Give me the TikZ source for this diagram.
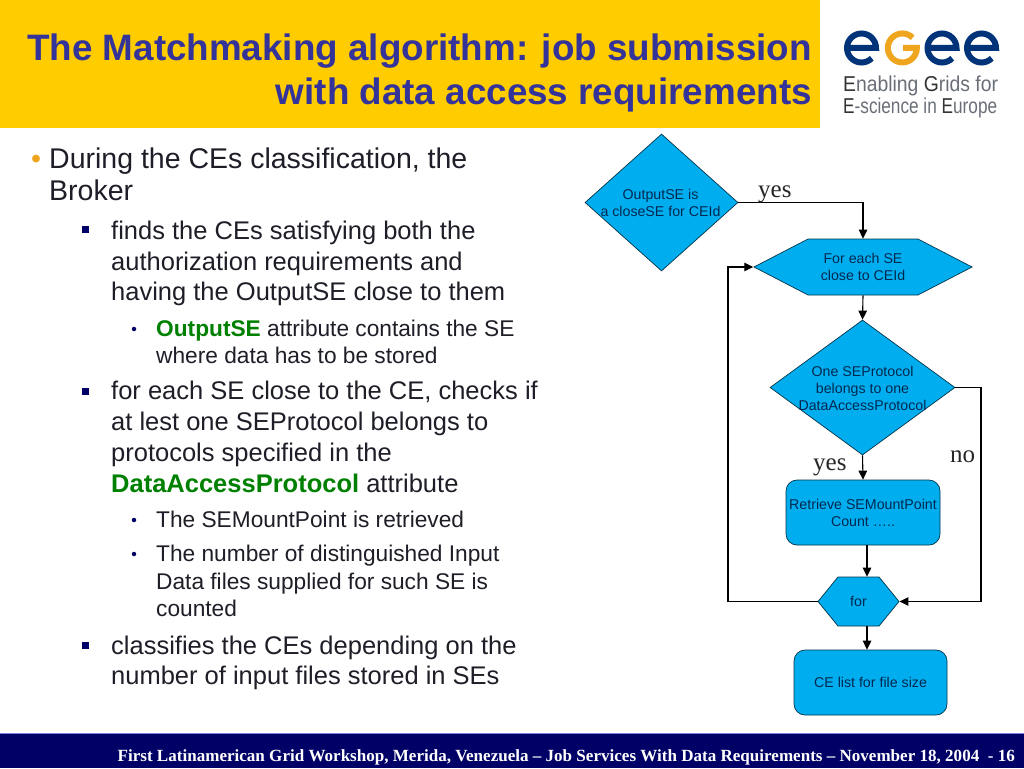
\documentclass[tikz,border=0pt]{standalone}
\usepackage{fontspec}
\usepackage{graphicx}
\setmainfont{Liberation Sans}
\newfontfamily\timesf{Liberation Serif}
\usetikzlibrary{shapes.geometric,shapes.symbols,arrows.meta}
\definecolor{hdr}{RGB}{255,204,0}
\definecolor{ttl}{RGB}{51,51,153}
\definecolor{flow}{RGB}{0,174,239}
\definecolor{flowtxt}{RGB}{0,40,80}
\definecolor{navy}{RGB}{0,0,102}
\definecolor{grn}{RGB}{0,128,0}
\definecolor{orng}{RGB}{240,165,30}
\definecolor{logob}{RGB}{0,51,120}
\definecolor{logoy}{RGB}{240,165,30}
\definecolor{body}{RGB}{30,30,40}
\definecolor{logog}{RGB}{105,110,120}
\tikzset{
 x=1pt,y=-1pt,
 line/.style={draw=black,line width=1.1pt},
 arr/.style={line,-{Triangle[length=9pt,width=8.5pt]}},
 flowfont/.style={font=\fontsize{14.2}{17}\selectfont},
 dia/.style={diamond,draw=black!70!flow,line width=.7pt,fill=flow,inner sep=0pt,text=flowtxt,align=center,flowfont},
 hex/.style={signal,signal to=east and west,draw=black!70!flow,line width=.7pt,fill=flow,inner sep=0pt,text=flowtxt,align=center,flowfont},
 rbox/.style={rectangle,rounded corners=11pt,draw=black!70!flow,line width=.7pt,fill=flow,inner sep=0pt,text=flowtxt,align=center,flowfont},
 lab/.style={font=\timesf\fontsize{25}{25}\selectfont,text=black!85,inner sep=0,anchor=base west},
 la/.style={inner sep=0pt,anchor=base west,text=body,font=\fontsize{28.5}{30}\selectfont},
 lb/.style={inner sep=0pt,anchor=base west,text=body,font=\fontsize{25.5}{30}\selectfont},
 lc/.style={inner sep=0pt,anchor=base west,text=body,font=\fontsize{22.7}{26}\selectfont},
 sq/.style={rectangle,fill=navy,inner sep=0pt,minimum size=7pt},
 dot/.style={circle,fill=navy,inner sep=0pt,minimum size=4.5pt},
 eg/.style={line width=6pt,line cap=butt},
 logotxt/.style={inner sep=0,anchor=base west,text=logog,font=\fontsize{21.5}{22}\selectfont},
}
\begin{document}
\begin{tikzpicture}
\useasboundingbox (0,0) rectangle (1024,768);
\fill[white] (0,0) rectangle (1024,768);
% header
\fill[hdr] (0,0) rectangle (820,128);
\node[inner sep=0,anchor=base east,text=ttl,font=\bfseries\fontsize{36.8}{44}\selectfont] (t1) at (812,60) {The Matchmaking algorithm: job submission};
\node[inner sep=0,anchor=base east,text=ttl,font=\bfseries\fontsize{36.8}{44}\selectfont] (t2) at (812,104) {with data access requirements};
% logo
\draw[eg,logob] (847.5,48) -- (876,48) arc[start angle=0,end angle=-315,x radius=14.5,y radius=14.5];
\draw[eg,logoy] (912.6,37.7) arc[start angle=-45,end angle=-360,x radius=14.5,y radius=14.5] -- (903,48);
\draw[eg,logob] (927.5,48) -- (956.5,48) arc[start angle=0,end angle=-315,x radius=14.5,y radius=14.5];
\draw[eg,logob] (967,48) -- (996,48) arc[start angle=0,end angle=-315,x radius=14.5,y radius=14.5];
\node[logotxt] (lg1) at (843,91) {\scalebox{.9}[1]{\textcolor{black!80}{E}nabling \textcolor{black!80}{G}rids for}};
\node[logotxt] (lg2) at (843,113) {\scalebox{.8}[1]{\textcolor{black!80}{E}-science in \textcolor{black!80}{E}urope}};
% footer
\fill[navy] (0,733) rectangle (1024,768);
\fill[black!25!blue!50!white] (0,732.5) rectangle (1024,734);
\node[inner sep=0,anchor=base east,text=white,font=\timesf\bfseries\fontsize{17.05}{18}\selectfont] (ft) at (1015,761) {First Latinamerican Grid Workshop, Merida, Venezuela – Job Services With Data Requirements – November 18, 2004\ \ - 16};
% bullets
\node[inner sep=0,anchor=base west,text=orng,font=\fontsize{28.5}{30}\selectfont] (b0) at (31,168) {•};
\node[la] (a1) at (49,168) {During the CEs classification, the};
\node[la] (a2) at (49,200) {Broker};
\node[sq] (s1) at (85,229) {};
\node[lb] (b1) at (111,239) {finds the CEs satisfying both the};
\node[lb] (b2) at (111,270) {authorization requirements and};
\node[lb] (b3) at (111,300) {having the OutputSE close to them};
\node[dot] (d1) at (134,329) {};
\node[lc] (c1) at (156,336) {\textcolor{grn}{\bfseries OutputSE} attribute contains the SE};
\node[lc] (c2) at (156,363) {where data has to be stored};
\node[sq] (s2) at (85,391) {};
\node[lb] (b4) at (111,399) {for each SE close to the CE, checks if};
\node[lb] (b5) at (111,430) {at lest one SEProtocol belongs to};
\node[lb] (b6) at (111,461) {protocols specified in the};
\node[lb] (b7) at (111,492) {\textcolor{grn}{\bfseries DataAccessProtocol} attribute};
\node[dot] (d2) at (134,520) {};
\node[lc] (c3) at (156,527) {The SEMountPoint is retrieved};
\node[dot] (d3) at (134,554) {};
\node[lc] (c4) at (156,561) {The number of distinguished Input};
\node[lc] (c5) at (156,589) {Data files supplied for such SE is};
\node[lc] (c6) at (156,616) {counted};
\node[sq] (s3) at (85,645) {};
\node[lb] (b8) at (111,654) {classifies the CEs depending on the};
\node[lb] (b9) at (111,684) {number of input files stored in SEs};
% flow nodes
\node[dia,shape aspect=1.117,minimum width=153pt,minimum height=137pt] (q1) at (661.5,202.5) {};
\node[inner sep=0,text=flowtxt,align=center,flowfont] (q1t) at (660.5,203) {OutputSE is\\a closeSE for CEId};
\node[hex,signal pointer angle=54.8,minimum width=218pt,minimum height=56pt] (h1) at (863,267) {For each SE\\close to CEId};
\node[dia,shape aspect=1.37,minimum width=185pt,minimum height=135pt] (q2) at (862.5,387.5) {};
\node[inner sep=0,text=flowtxt,align=center,flowfont] (q2t) at (862.5,388) {One SEProtocol\\belongs to one\\DataAccessProtocol};
\node[rbox,minimum width=154pt,minimum height=65pt] (r1) at (863,512.5) {Retrieve SEMountPoint\\Count …..};
\node[hex,signal pointer angle=101.6,minimum width=81pt,minimum height=49pt] (f1) at (858.5,601.5) {for};
\node[rbox,minimum width=153pt,minimum height=65pt] (r2) at (870.5,682.5) {CE list for file size};
% connectors
\draw[arr] (q1.east) -| (h1.north);
\draw[arr] (h1.south) -- (q2.north);
\draw[arr] (q2.south) -- (r1.north);
\draw[arr] ([xshift=4pt]r1.south) -- ([xshift=8.5pt]f1.north);
\draw[arr] ([xshift=8.5pt]f1.south) -- ([xshift=-3.5pt]r2.north);
\coordinate (cl) at (728,400);
\coordinate (cr) at (981,400);
\draw[arr] (f1.west) -| (cl) |- (h1.west);
\draw[arr] (q2.east) -| (cr) |- (f1.east);
% labels
\node[lab] (y1) at (758,197) {yes};
\node[lab] (y2) at (813,470) {yes};
\node[lab] (n1) at (950,462) {no};
\end{tikzpicture}
\end{document}
